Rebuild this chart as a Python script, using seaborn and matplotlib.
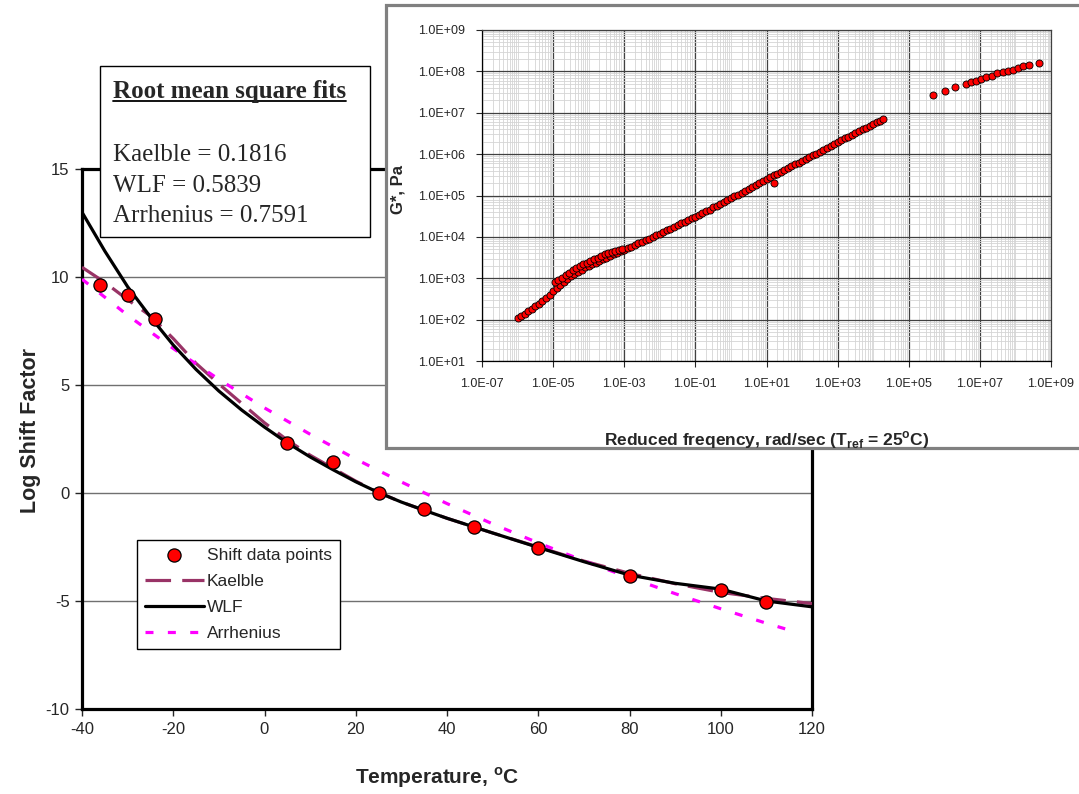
import matplotlib
matplotlib.use('Agg')
import numpy as np
import matplotlib.pyplot as plt
import matplotlib.ticker as mticker
from matplotlib.patches import Rectangle
from matplotlib.lines import Line2D
import seaborn as sns

# Shift factor data points
temp_points = [-36, -30, -24, 5, 15, 25, 35, 46, 60, 80, 100, 110]
shift_points = [9.63, 9.17, 8.06, 2.31, 1.44, 0.0, -0.74, -1.57, -2.55, -3.84, -4.49, -5.05]

# Fitted curves
kaelble_temp = [-40, -35, -30, -25, -20, -15, -10, -5, 0, 5, 10, 15, 20, 25, 30, 35, 40,
                50, 60, 70, 80, 90, 100, 110, 120]
kaelble_shift = [10.45, 9.75, 8.95, 8.2, 7.15, 6.0, 5.05, 4.15, 3.25, 2.45, 1.75, 1.15, 0.55,
                 0.02, -0.42, -0.8, -1.17, -1.85, -2.5, -3.15, -3.72, -4.2, -4.6, -4.88, -5.12]

wlf_temp = [-40, -35, -30, -25, -20, -15, -10, -5, 0, 5, 10, 15, 20, 25, 30, 35, 40,
            50, 60, 70, 80, 90, 100, 110, 120]
wlf_shift = [13.0, 11.2, 9.55, 8.15, 6.85, 5.72, 4.72, 3.84, 3.05, 2.32, 1.67, 1.08, 0.52,
             0.02, -0.42, -0.8, -1.17, -1.85, -2.52, -3.18, -3.8, -4.18, -4.45, -5.0, -5.27]

arrh_temp = [-40, -30, -20, -10, 0, 10, 20, 30, 40, 50, 60, 70, 80, 90, 100, 110, 117]
arrh_shift = [9.9, 8.23, 6.69, 5.26, 3.94, 2.72, 1.57, 0.51, -0.49, -1.43, -2.31, -3.14,
              -3.92, -4.66, -5.36, -6.03, -6.47]

# Master curve for the inset (log10 values)
master_logf = [-6.0, -5.9, -5.8, -5.7, -5.6, -5.5, -5.4, -5.3, -5.2, -5.1, -5.0, -4.9, -4.8,
               -4.7, -4.6, -4.5, -4.4, -4.3, -4.2, -4.1, -4.0, -3.9, -3.8, -3.7, -3.6, -3.5,
               -3.4, -3.3, -3.2, -3.1, -3.0,
               -4.95, -4.85, -4.75, -4.65, -4.55, -4.45, -4.35, -4.25, -4.15, -4.05, -3.95,
               -3.85, -3.75, -3.65, -3.55, -3.45, -3.35, -3.25, -3.15, -3.05,
               -2.9, -2.8, -2.7, -2.6, -2.5, -2.4, -2.3, -2.2, -2.1, -2.0, -1.9, -1.8, -1.7,
               -1.6, -1.5, -1.4, -1.3, -1.2, -1.1, -1.0, -0.9, -0.8, -0.7, -0.6, -0.5, -0.4,
               -0.3, -0.2, -0.1, 0.0, 0.1, 0.2, 0.3, 0.4, 0.5, 0.6, 0.7, 0.8, 0.9, 1.0, 1.1,
               1.2, 1.3, 1.4, 1.5, 1.6, 1.7, 1.8, 1.9, 2.0, 2.1, 2.2, 2.3, 2.4, 2.5, 2.6, 2.7,
               2.8, 2.9, 3.0, 3.1, 3.2, 3.3, 3.4, 3.5, 3.6, 3.7, 3.8, 3.9, 4.0, 4.1, 4.2, 4.28,
               1.22]
master_logg = [2.03, 2.08, 2.14, 2.2, 2.26, 2.32, 2.38, 2.45, 2.52, 2.6, 2.68, 2.76, 2.84,
               2.92, 2.99, 3.05, 3.11, 3.16, 3.21, 3.26, 3.3, 3.34, 3.38, 3.42, 3.46, 3.5,
               3.54, 3.58, 3.61, 3.65, 3.68,
               2.9, 2.95, 3.01, 3.07, 3.13, 3.19, 3.24, 3.29, 3.34, 3.38, 3.42,
               3.46, 3.5, 3.54, 3.58, 3.61, 3.64, 3.67, 3.69, 3.71,
               3.72, 3.76, 3.8, 3.84, 3.88, 3.92, 3.96, 4.0, 4.04, 4.08, 4.12, 4.16, 4.2,
               4.24, 4.28, 4.33, 4.37, 4.41, 4.45, 4.49, 4.53, 4.57, 4.62, 4.66, 4.71, 4.75,
               4.8, 4.84, 4.89, 4.93, 4.98, 5.02, 5.07, 5.12, 5.16, 5.21, 5.26, 5.31, 5.35, 5.4, 5.44,
               5.49, 5.53, 5.57, 5.62, 5.66, 5.71, 5.75, 5.79, 5.83, 5.88, 5.92, 5.97, 6.01, 6.06, 6.1, 6.15,
               6.2, 6.24, 6.29, 6.33, 6.38, 6.42, 6.47, 6.51, 6.56, 6.6, 6.64, 6.69, 6.73, 6.77, 6.81, 6.84,
               5.3]

high_logf = [5.69, 6.02, 6.30, 6.61, 6.74, 6.89, 7.03, 7.17, 7.34, 7.49, 7.64, 7.80, 7.94,
             8.08, 8.22, 8.38, 8.67]
high_logg = [7.43, 7.53, 7.62, 7.70, 7.74, 7.77, 7.82, 7.86, 7.90, 7.95, 7.98, 8.00, 8.03,
             8.09, 8.12, 8.15, 8.21]

rms_lines = ['Kaelble = 0.1816', 'WLF = 0.5839', 'Arrhenius = 0.7591']

W, H = 1079, 794

sns.set_style('white')
plt.rcParams['font.family'] = ['Liberation Sans', 'DejaVu Sans']
plt.rcParams['axes.unicode_minus'] = False
plt.rcParams['mathtext.fontset'] = 'custom'
plt.rcParams['mathtext.sf'] = 'Liberation Sans:bold'
plt.rcParams['mathtext.rm'] = 'Liberation Sans'

fig = plt.figure(figsize=(W / 100, H / 100), dpi=100)


def fx(px):
    return px / W


def fy(py):
    return 1 - py / H


# ---- main chart ----
ax = fig.add_axes([fx(82), fy(709), fx(812) - fx(82), fy(169) - fy(709)], zorder=1)

sns.lineplot(x=kaelble_temp, y=kaelble_shift, ax=ax, color='#993366', lw=2.3,
             linestyle=(0, (8, 3.5)), label='Kaelble', zorder=3)
sns.lineplot(x=wlf_temp, y=wlf_shift, ax=ax, color='black', lw=2.3, label='WLF', zorder=4)
sns.lineplot(x=arrh_temp, y=arrh_shift, ax=ax, color='#ff00ff', lw=2.3,
             linestyle=(0, (2.5, 4.5)), label='Arrhenius', zorder=3)
sns.scatterplot(x=temp_points, y=shift_points, ax=ax, s=90, color='red', edgecolor='black',
                linewidth=0.9, zorder=5, label='Shift data points')

ax.set_xlim(-40, 120)
ax.set_ylim(-10, 15)
ax.set_xticks(range(-40, 121, 20))
ax.set_yticks(range(-10, 16, 5))
ax.tick_params(axis='both', direction='out', length=5, width=1, labelsize=12, pad=4,
               left=True, bottom=True)
ax.yaxis.grid(True, color='#707070', lw=1)
ax.xaxis.grid(False)
for sp in ax.spines.values():
    sp.set_color('black')
    sp.set_linewidth(2.3)

ax.set_xlabel(r'Temperature, $^\mathsf{o}$C', fontsize=15, fontweight='bold', va='center')
ax.xaxis.set_label_coords(0.486, (709 - 778) / 540)
ax.set_ylabel('Log Shift Factor', fontsize=15.5, fontweight='bold', va='center')
ax.yaxis.set_label_coords(-0.070, 0.515)

h, l = ax.get_legend_handles_labels()
order = [l.index(n) for n in ['Shift data points', 'Kaelble', 'WLF', 'Arrhenius']]
leg = ax.legend([h[i] for i in order], [l[i] for i in order], loc='upper left',
                bbox_to_anchor=(0.075, 0.313), borderaxespad=0, fontsize=12.5,
                frameon=True, fancybox=False, framealpha=1, edgecolor='black',
                handlelength=3.4, handletextpad=0.2, labelspacing=0.62, borderpad=0.45)
leg.get_frame().set_linewidth(1)

# ---- inset frame ----
fig.add_artist(Rectangle((fx(386), fy(448)), fx(1085) - fx(386), fy(5) - fy(448),
                         transform=fig.transFigure, facecolor='white',
                         edgecolor='#808080', lw=2.3, zorder=2))

ax_in = fig.add_axes([fx(482), fy(361), fx(1051) - fx(482), fy(30) - fy(361)], zorder=3)
sns.scatterplot(x=np.power(10.0, master_logf), y=np.power(10.0, master_logg), ax=ax_in,
                s=26, color='red', edgecolor='black', linewidth=0.6, zorder=4)
sns.scatterplot(x=np.power(10.0, high_logf), y=np.power(10.0, high_logg), ax=ax_in,
                s=26, color='red', edgecolor='black', linewidth=0.6, zorder=4)
ax_in.set_xscale('log')
ax_in.set_yscale('log')
ax_in.set_xlim(1e-7, 1e9)
ax_in.set_ylim(1e1, 1e9)
ax_in.xaxis.set_major_locator(mticker.FixedLocator([10.0 ** k for k in range(-7, 10, 2)]))
ax_in.yaxis.set_major_locator(mticker.FixedLocator([10.0 ** k for k in range(1, 10)]))
ax_in.xaxis.set_minor_locator(mticker.LogLocator(base=10, subs=np.arange(1, 10), numticks=200))
ax_in.yaxis.set_minor_locator(mticker.LogLocator(base=10, subs=np.arange(2, 10), numticks=200))
fmt = mticker.FuncFormatter(lambda v, p: f'{v:.1E}')
ax_in.xaxis.set_major_formatter(fmt)
ax_in.yaxis.set_major_formatter(fmt)
ax_in.xaxis.set_minor_formatter(mticker.NullFormatter())
ax_in.yaxis.set_minor_formatter(mticker.NullFormatter())
ax_in.tick_params(which='major', direction='out', length=4, width=0.8, labelsize=9, pad=8,
                  left=True, bottom=True)
ax_in.tick_params(which='minor', length=0)
ax_in.grid(True, which='major', color='#404040', lw=0.9)
ax_in.grid(True, which='minor', color='#d4d4d4', lw=0.6)
ax_in.set_axisbelow(True)
for sp in ax_in.spines.values():
    sp.set_color('#404040')
    sp.set_linewidth(0.9)
ax_in.spines['left'].set_color('black')
ax_in.spines['bottom'].set_color('black')

ax_in.set_xlabel(r'Reduced freqency, rad/sec (T$_\mathsf{ref}$ = 25$^\mathsf{o}$C)',
                 fontsize=12.5, fontweight='bold', va='center')
ax_in.xaxis.set_label_coords((767 - 482) / 569, (361 - 440) / 331)
ax_in.set_ylabel('G*, Pa', fontsize=12, fontweight='bold', va='center')
ax_in.yaxis.set_label_coords((398 - 482) / 569, (361 - 190) / 331)

# ---- RMS text box ----
fig.add_artist(Rectangle((fx(100), fy(237)), fx(370) - fx(100), fy(66) - fy(237),
                         transform=fig.transFigure, facecolor='white',
                         edgecolor='black', lw=1, zorder=4))
title = fig.text(fx(113), fy(98), 'Root mean square fits', family='Liberation Serif',
                 fontsize=18, fontweight='bold', va='baseline', ha='left', zorder=5)
for txt, ypx in zip(rms_lines, [155, 186, 216]):
    fig.text(fx(113), fy(ypx), txt, family='Liberation Serif', fontsize=18,
             va='center', ha='left', zorder=5)

fig.canvas.draw()
bb = title.get_window_extent(fig.canvas.get_renderer())
fig.add_artist(Line2D([bb.x0 / W, bb.x1 / W], [fy(101), fy(101)], transform=fig.transFigure,
                      color='black', lw=1.3, zorder=5))

fig.savefig('out.png', dpi=100)
